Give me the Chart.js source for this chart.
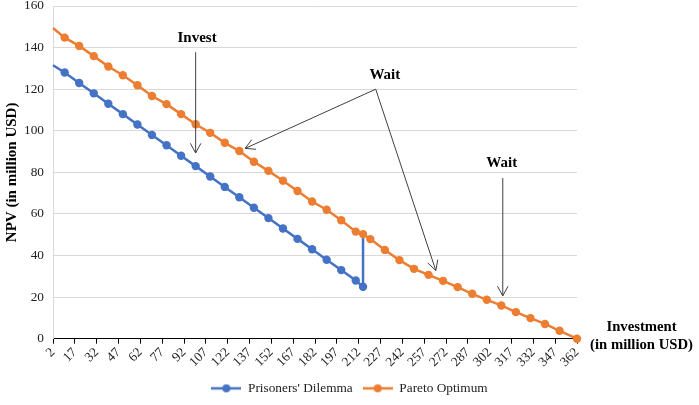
<!DOCTYPE html>
<html><head><meta charset="utf-8">
<script src="https://cdn.jsdelivr.net/npm/chart.js@4/dist/chart.umd.min.js"></script>
<style>html,body{margin:0;padding:0;background:#fff;}canvas{display:block;}</style>
</head><body>
<canvas id="c" width="699" height="405"></canvas>
<script>
// ---- data ----
const xTickLabels = [2,17,32,47,62,77,92,107,122,137,152,167,182,197,212,227,242,257,272,287,302,317,332,347,362];
const seriesNames = ["Prisoners' Dilemma", "Pareto Optimum"];
const dilemmaX = [2,10,20,30,40,50,60,70,80,90,100,110,120,130,140,150,160,170,180,190,200,210,215,215];
const dilemmaY = [131.5,128,123,118,113,108,103,98,93,88,83,78,73,68,63,58,53,48,43,38,33,28,25,50];
const paretoX = [2,10,20,30,40,50,60,70,80,90,100,110,120,130,140,150,160,170,180,190,200,210,215,220,230,240,250,260,270,280,290,300,310,320,330,340,350,362];
const paretoY = [149.4,144.8,140.8,135.9,130.9,126.7,121.9,116.7,112.8,108,103.1,99,94.2,90.3,85.1,80.7,76,71,66,62,57,51.5,50.3,47.9,42.7,37.8,33.6,30.7,27.8,24.8,21.6,18.7,16,12.8,9.9,7.1,3.8,0];
const yAxisTitle = "NPV (in million USD)";
const xAxisTitle = ["Investment", "(in million USD)"];
const notes = [
  {text: "Invest", at: [101, 144.5], arrows: [{from: [100, 137.8], to: [100, 89.3]}]},
  {text: "Wait", at: [230, 126.7], arrows: [{from: [223.7, 120], to: [134, 91.5]}, {from: [223.7, 120], to: [265, 32.8]}]},
  {text: "Wait", at: [310.3, 84.5], arrows: [{from: [311, 77.3], to: [311, 20.6]}]}
];

const BLUE = '#4472C4', ORANGE = '#ED7D31';
const SERIF = "'Liberation Serif','Times New Roman',serif";

function legendIcon(color) {
  const c = document.createElement('canvas');
  c.width = 30; c.height = 10;
  const g = c.getContext('2d');
  g.strokeStyle = color; g.lineWidth = 2.5;
  g.beginPath(); g.moveTo(0, 5); g.lineTo(30, 5); g.stroke();
  g.fillStyle = color;
  g.beginPath(); g.arc(15, 5, 4, 0, Math.PI * 2); g.fill();
  return c;
}
const icons = [legendIcon(BLUE), legendIcon(ORANGE)];

const annotationPlugin = {
  id: 'notes',
  afterDraw(chart) {
    const {ctx, scales: {x, y}, chartArea} = chart;
    ctx.save();
    ctx.fillStyle = '#000';
    ctx.font = "bold 15px " + SERIF;
    ctx.textAlign = 'center';
    ctx.textBaseline = 'middle';
    ctx.strokeStyle = '#404040';
    ctx.lineWidth = 1;
    notes.forEach(n => {
      ctx.fillText(n.text, x.getPixelForValue(n.at[0]), y.getPixelForValue(n.at[1]));
      n.arrows.forEach(a => {
        const x1 = x.getPixelForValue(a.from[0]), y1 = y.getPixelForValue(a.from[1]);
        const x2 = x.getPixelForValue(a.to[0]), y2 = y.getPixelForValue(a.to[1]);
        ctx.beginPath(); ctx.moveTo(x1, y1); ctx.lineTo(x2, y2); ctx.stroke();
        const ang = Math.atan2(y1 - y2, x1 - x2);
        const L = 11, s = 0.5;
        ctx.beginPath();
        ctx.moveTo(x2 + L * Math.cos(ang + s), y2 + L * Math.sin(ang + s));
        ctx.lineTo(x2, y2);
        ctx.lineTo(x2 + L * Math.cos(ang - s), y2 + L * Math.sin(ang - s));
        ctx.stroke();
      });
    });
    // x axis title at the right of the plot
    ctx.font = "bold 14.7px " + SERIF;
    const cx = chartArea.right + 64.5;
    ctx.fillText(xAxisTitle[0], cx, chartArea.bottom - 11);
    ctx.fillText(xAxisTitle[1], cx, chartArea.bottom + 7);
    ctx.restore();
  }
};

new Chart(document.getElementById('c'), {
  type: 'line',
  data: {
    datasets: [
      {
        label: seriesNames[0],
        data: dilemmaX.map((v, i) => ({x: v, y: dilemmaY[i]})),
        borderColor: BLUE, backgroundColor: BLUE, borderWidth: 2.5,
        pointRadius: c => (c.dataIndex === 0 || c.dataIndex === dilemmaX.length - 1) ? 0 : 4.2,
        pointHoverRadius: 4.2, pointBorderWidth: 0,
        tension: 0, clip: false, order: 1
      },
      {
        label: seriesNames[1],
        data: paretoX.map((v, i) => ({x: v, y: paretoY[i]})),
        borderColor: ORANGE, backgroundColor: ORANGE, borderWidth: 2.5,
        pointRadius: c => c.dataIndex === 0 ? 0 : 4.2,
        pointHoverRadius: 4.2, pointBorderWidth: 0,
        tension: 0, clip: false, order: 0
      }
    ]
  },
  options: {
    responsive: false, animation: false, devicePixelRatio: 1,
    layout: {padding: {top: 6, right: 0, left: 0, bottom: 0}},
    scales: {
      x: {
        type: 'linear', min: 2, max: 362,
        afterBuildTicks: s => { s.ticks = xTickLabels.map(v => ({value: v})); },
        afterFit: s => { s.height = 33; s.paddingLeft = 0; s.paddingRight = 0; },
        ticks: {autoSkip: false, minRotation: 45, maxRotation: 45, padding: 1, color: '#222',
                font: {family: SERIF, size: 13.3}, callback: v => String(v)},
        grid: {drawOnChartArea: false, drawTicks: true, tickLength: 5, color: '#000'},
        border: {display: true, color: '#000', width: 1}
      },
      y: {
        min: 0, max: 160,
        afterFit: s => { s.width = 53; s.paddingTop = 0; s.paddingBottom = 0; },
        ticks: {stepSize: 20, padding: 9, color: '#222', font: {family: SERIF, size: 13.3}},
        grid: {color: '#d9d9d9', drawTicks: false},
        border: {display: true, color: '#d9d9d9'},
        title: {display: true, text: yAxisTitle, color: '#000', padding: {top: 3, bottom: 0},
                font: {family: SERIF, size: 15, weight: 'bold'}}
      },
      gutter: {
        position: 'right', min: 0, max: 1,
        afterFit: s => { s.width = 122; s.paddingTop = 0; s.paddingBottom = 0; },
        ticks: {display: false},
        grid: {display: false, drawTicks: false},
        border: {display: false}
      }
    },
    plugins: {
      tooltip: {enabled: false},
      legend: {
        position: 'bottom',
        labels: {
          usePointStyle: true, pointStyleWidth: 30, padding: 10, color: '#222',
          font: {family: SERIF, size: 13.3},
          sort: (a, b) => a.datasetIndex - b.datasetIndex,
          generateLabels: chart => Chart.defaults.plugins.legend.labels.generateLabels(chart)
            .map(it => Object.assign(it, {pointStyle: icons[it.datasetIndex]}))
        }
      }
    }
  },
  plugins: [annotationPlugin]
});
</script>
</body></html>
